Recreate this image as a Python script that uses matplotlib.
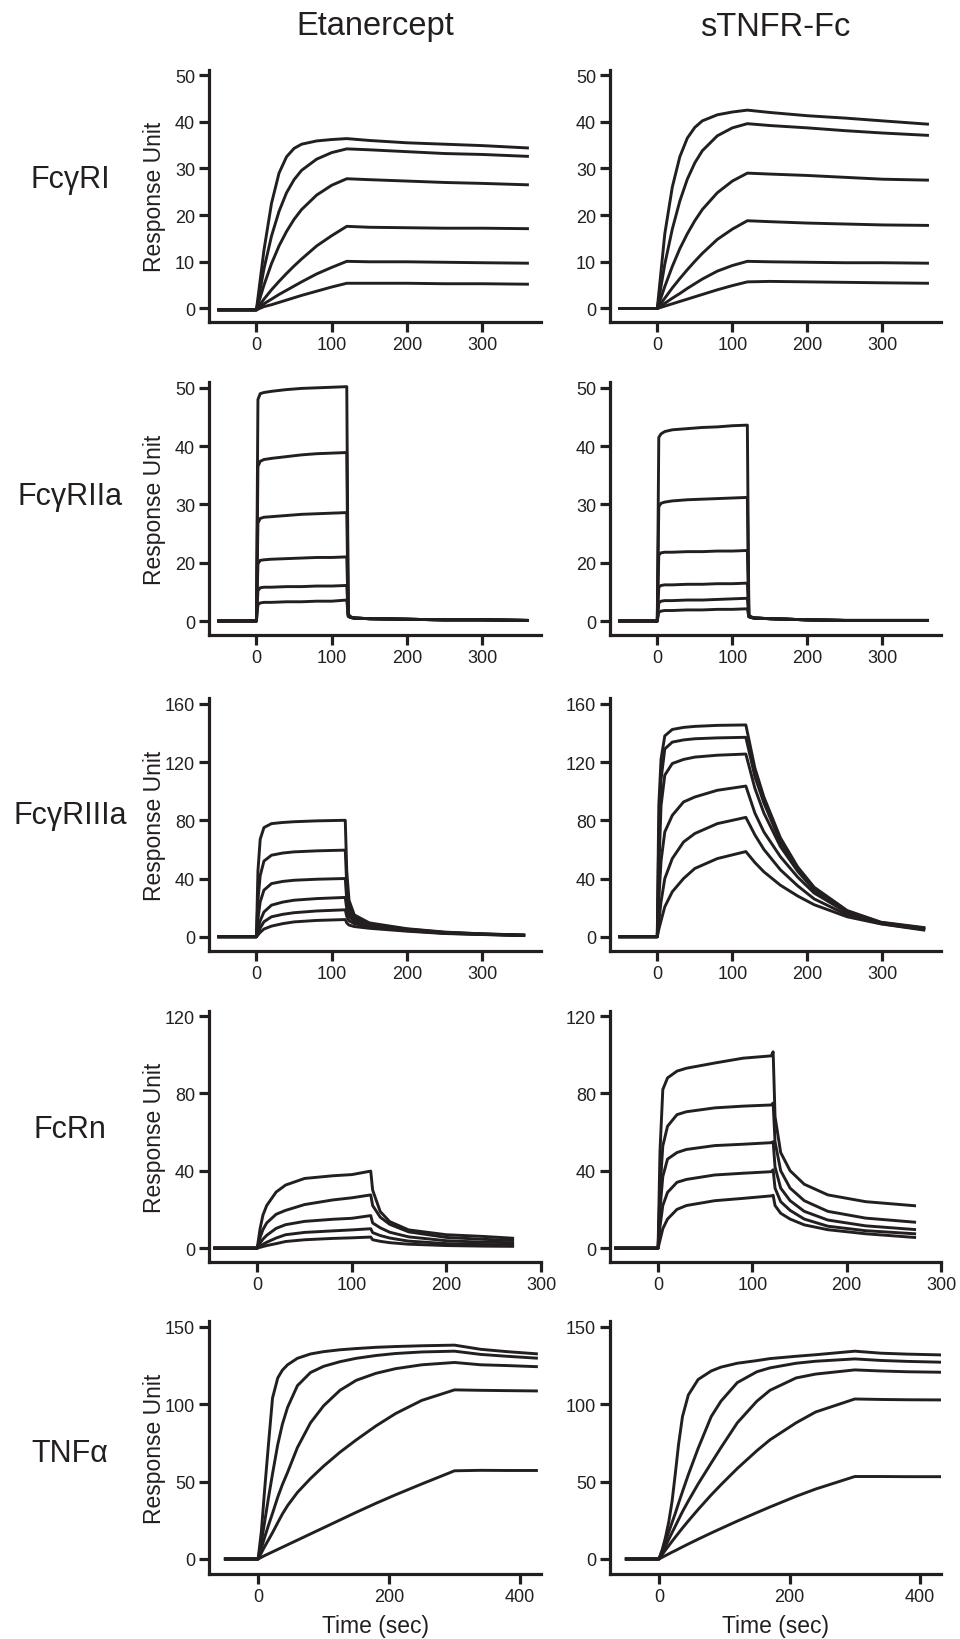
import matplotlib
matplotlib.use('Agg')
import matplotlib.pyplot as plt
from matplotlib import font_manager

# ---------------- data ----------------
col_titles = ['Etanercept', 'sTNFR-Fc']
row_names = ['FcγRI', 'FcγRIIa', 'FcγRIIIa', 'FcRn', 'TNFα']

# FcγRI
t_ri = [-50, 0, 10, 20, 30, 40, 50, 60, 80, 100, 120, 150, 200, 250, 300, 360]
ri_eta = [
    [-0.3, -0.3, 12.5, 22.5, 29.0, 32.5, 34.3, 35.2, 35.9, 36.2, 36.4, 36.0, 35.5, 35.2, 34.9, 34.4],
    [-0.3, -0.3, 8.5, 15.5, 20.8, 24.8, 27.6, 29.6, 32.0, 33.4, 34.2, 34.0, 33.6, 33.2, 33.0, 32.6],
    [-0.3, -0.3, 5.0, 9.6, 13.4, 16.5, 19.1, 21.2, 24.3, 26.4, 27.8, 27.6, 27.3, 27.0, 26.8, 26.5],
    [-0.3, -0.3, 2.0, 4.0, 5.8, 7.5, 9.1, 10.6, 13.4, 15.6, 17.6, 17.4, 17.3, 17.2, 17.2, 17.1],
    [-0.3, -0.3, 1.0, 2.0, 3.0, 3.9, 4.8, 5.7, 7.4, 8.8, 10.1, 10.0, 10.0, 9.9, 9.8, 9.7],
    [-0.3, -0.3, 0.4, 0.8, 1.3, 1.8, 2.3, 2.8, 3.7, 4.6, 5.4, 5.4, 5.4, 5.3, 5.3, 5.2],
]
ri_stnfr = [
    [0, 0, 16.0, 26.0, 32.5, 36.5, 38.8, 40.2, 41.5, 42.1, 42.5, 42.0, 41.3, 40.8, 40.2, 39.5],
    [0, 0, 9.5, 17.0, 23.0, 27.7, 31.2, 33.8, 37.0, 38.7, 39.6, 39.2, 38.7, 38.1, 37.6, 37.1],
    [0, 0, 4.7, 9.0, 12.8, 16.0, 18.8, 21.2, 24.8, 27.3, 29.0, 28.8, 28.5, 28.1, 27.7, 27.5],
    [0, 0, 2.2, 4.4, 6.4, 8.3, 10.1, 11.8, 14.8, 17.0, 18.8, 18.6, 18.3, 18.1, 17.9, 17.8],
    [0, 0, 1.1, 2.2, 3.2, 4.3, 5.3, 6.3, 8.0, 9.2, 10.1, 10.0, 9.9, 9.8, 9.8, 9.7],
    [0, 0, 0.5, 1.0, 1.5, 2.0, 2.5, 3.0, 4.0, 4.9, 5.7, 5.8, 5.7, 5.6, 5.5, 5.4],
]

# FcγRIIa (plotted in axis units; the source labels the 5 ticks 0,20,30,40,50)
t_riia = [-50, 0, 2, 5, 10, 20, 40, 60, 80, 100, 120, 122, 125, 130, 150, 200, 250, 300, 360]
riia_eta = [
    [0, 0, 38.0, 39.0, 39.2, 39.4, 39.7, 39.9, 40.0, 40.1, 40.2, 1.2, 0.7, 0.5, 0.4, 0.3, 0.2, 0.2, 0.1],
    [0, 0, 26.5, 27.4, 27.7, 27.9, 28.2, 28.5, 28.7, 28.8, 28.9, 1.1, 0.7, 0.5, 0.4, 0.3, 0.2, 0.2, 0.1],
    [0, 0, 16.8, 17.6, 17.8, 17.9, 18.1, 18.3, 18.4, 18.5, 18.6, 1.0, 0.7, 0.5, 0.4, 0.3, 0.2, 0.2, 0.1],
    [0, 0, 9.8, 10.4, 10.5, 10.6, 10.7, 10.8, 10.9, 10.9, 11.0, 0.9, 0.6, 0.5, 0.4, 0.3, 0.2, 0.2, 0.1],
    [0, 0, 5.2, 5.7, 5.8, 5.8, 5.9, 5.9, 6.0, 6.0, 6.1, 0.8, 0.6, 0.5, 0.4, 0.3, 0.2, 0.2, 0.1],
    [0, 0, 2.8, 3.1, 3.2, 3.2, 3.3, 3.3, 3.4, 3.4, 3.6, 0.8, 0.6, 0.5, 0.4, 0.3, 0.2, 0.2, 0.1],
]
riia_stnfr = [
    [0, 0, 31.5, 32.1, 32.5, 32.8, 33.0, 33.2, 33.3, 33.5, 33.6, 1.0, 0.7, 0.5, 0.4, 0.2, 0.1, 0.1, 0.1],
    [0, 0, 19.6, 20.2, 20.4, 20.6, 20.8, 20.9, 21.0, 21.1, 21.2, 0.9, 0.7, 0.5, 0.4, 0.2, 0.1, 0.1, 0.1],
    [0, 0, 11.3, 11.7, 11.8, 11.8, 11.9, 11.9, 12.0, 12.0, 12.1, 0.9, 0.6, 0.5, 0.4, 0.2, 0.1, 0.1, 0.1],
    [0, 0, 5.8, 6.1, 6.2, 6.2, 6.3, 6.3, 6.4, 6.4, 6.5, 0.8, 0.6, 0.5, 0.4, 0.2, 0.1, 0.1, 0.1],
    [0, 0, 3.1, 3.4, 3.5, 3.5, 3.6, 3.6, 3.7, 3.8, 3.9, 0.8, 0.6, 0.5, 0.4, 0.2, 0.1, 0.1, 0.1],
    [0, 0, 1.5, 1.7, 1.8, 1.8, 1.9, 1.9, 2.0, 2.0, 2.1, 0.7, 0.6, 0.5, 0.4, 0.2, 0.1, 0.1, 0.1],
]

# FcγRIIIa
t_riiia_eta = [-50, 0, 2, 5, 10, 20, 35, 50, 80, 118, 120, 123, 130, 150, 200, 250, 300, 355]
riiia_eta = [
    [0, 0, 45, 67, 75, 77.7, 78.5, 79.0, 79.6, 80.0, 45, 25, 15, 9.5, 5.5, 3.2, 2.0, 1.2],
    [0, 0, 25, 42, 52, 56.0, 57.5, 58.3, 59.0, 59.5, 35, 21, 13.5, 8.8, 5.2, 3.0, 1.9, 1.1],
    [0, 0, 12, 24, 32, 36.5, 38.0, 38.8, 39.5, 40.0, 25, 17, 12, 8.2, 4.9, 2.8, 1.8, 1.0],
    [0, 0, 5, 11, 17, 21.7, 23.8, 25.1, 26.2, 27.0, 19, 14, 10.5, 7.5, 4.5, 2.6, 1.7, 1.0],
    [0, 0, 2.5, 6, 10.3, 13.7, 15.4, 16.5, 17.7, 18.5, 14, 11, 9, 6.8, 4.2, 2.4, 1.6, 0.9],
    [0, 0, 1.2, 3, 5.3, 7.3, 9.0, 10.2, 11.2, 11.8, 9.5, 8, 7, 5.8, 3.8, 2.2, 1.5, 0.8],
]
t_riiia_stnfr = [-50, 0, 2, 5, 10, 20, 35, 50, 80, 118, 130, 142, 164, 187, 209, 253, 298, 355]
riiia_stnfr = [
    [0, 0, 90, 122, 138.0, 142.4, 143.8, 144.5, 145.2, 145.5, 116, 96, 68, 48, 34, 18, 10, 6.3],
    [0, 0, 70, 108, 129.0, 133.7, 135.2, 136.0, 136.6, 137.0, 110, 92, 65, 46.5, 33, 17.5, 9.7, 6.0],
    [0, 0, 45, 90, 111.0, 119.0, 121.8, 123.4, 124.7, 125.5, 102, 85, 62, 45, 32, 17, 9.5, 5.5],
    [0, 0, 25, 52, 72.0, 83.4, 92.6, 96.0, 100.6, 103.5, 85, 72, 55, 41, 30, 16.5, 9.5, 5.5],
    [0, 0, 10, 24, 40.0, 53.7, 65.1, 70.9, 77.7, 82.0, 70, 60, 46, 35, 26, 15, 9, 5.0],
    [0, 0, 5, 11, 20.6, 30.9, 40.0, 46.9, 53.7, 58.5, 51, 44.6, 35.4, 28, 22, 13.7, 8.8, 4.6],
]

# FcRn
t_fcrn_eta = [-45, 0, 3, 6, 10, 20, 30, 50, 80, 100, 120, 122, 130, 140, 160, 200, 240, 270]
fcrn_eta = [
    [0, 0, 10.0, 17.0, 22.0, 29.0, 32.6, 36.0, 37.4, 38.0, 39.8, 30.0, 18.9, 13.7, 9.4, 6.9, 6.0, 5.1],
    [0, 0, 5.5, 9.5, 13.0, 17.5, 19.5, 22.5, 24.9, 26.0, 27.5, 22.0, 16.0, 12.3, 8.4, 5.5, 4.5, 4.0],
    [0, 0, 2.6, 4.6, 6.6, 10.2, 12.1, 13.8, 14.9, 15.4, 16.8, 13.0, 10.5, 8.2, 5.8, 3.8, 3.0, 2.8],
    [0, 0, 1.0, 1.9, 3.0, 5.2, 6.9, 8.1, 8.9, 9.4, 10.0, 8.0, 6.5, 5.2, 3.6, 2.3, 1.8, 1.6],
    [0, 0, 0.4, 0.8, 1.3, 2.3, 3.4, 4.3, 5.0, 5.3, 5.7, 4.3, 3.5, 2.8, 2.0, 1.3, 1.0, 0.9],
]
t_fcrn_stnfr = [-45, 0, 2, 5, 10, 20, 30, 60, 90, 120, 122, 124, 130, 140, 155, 180, 220, 272]
fcrn_stnfr = [
    [0, 0, 50, 82.0, 88.0, 91.5, 93.0, 95.7, 98.2, 99.4, 101.5, 68, 49.4, 40.0, 33.0, 27.5, 24.0, 21.9],
    [0, 0, 30, 52.8, 63.0, 69.0, 70.5, 72.5, 73.4, 74.0, 75.0, 55, 40.0, 31.0, 24.5, 19.0, 15.5, 13.4],
    [0, 0, 20, 37.0, 46.0, 49.4, 51.0, 53.0, 53.7, 54.5, 55.0, 42, 31.0, 24.5, 19.0, 14.5, 11.5, 9.6],
    [0, 0, 11, 22.0, 28.8, 34.0, 35.5, 37.8, 38.7, 39.5, 40.5, 31, 24.0, 19.5, 15.0, 11.3, 9.0, 7.4],
    [0, 0, 4, 10.0, 15.0, 20.0, 22.0, 24.5, 25.7, 27.0, 27.3, 22, 18.0, 15.0, 12.0, 9.5, 7.4, 5.5],
]

# TNFα
t_tnf_eta = [-50, 0, 5, 10, 16, 22, 30, 37, 45, 60, 80, 100, 125, 150, 180, 210, 250, 300, 340, 380, 425]
tnf_eta = [
    [0, 0, 18, 45, 75, 104, 117, 122, 125.5, 129.7, 132.5, 134.0, 135.2, 136.0, 136.8, 137.3, 137.8, 138.2, 135.5, 134.0, 132.6],
    [0, 0, 11, 24, 40, 55, 74, 87, 98.0, 112.0, 120.5, 124.5, 127.5, 129.7, 131.5, 132.8, 133.8, 134.3, 132.2, 131.0, 129.8],
    [0, 0, 7, 14, 22, 29.5, 40, 48, 56.0, 72.0, 88.0, 99.0, 109.0, 115.5, 120.0, 123.0, 125.5, 127.0, 125.5, 125.0, 124.3],
    [0, 0, 4, 8, 12.5, 17, 23.5, 29, 34.5, 43.0, 52.0, 60.0, 69.0, 77.0, 86.0, 94.0, 102.5, 109.3, 109.0, 108.8, 108.6],
    [0, 0, 1.1, 2.2, 3.4, 4.6, 6.2, 7.6, 9.2, 12.2, 16.2, 20.2, 25.2, 30.2, 36.0, 41.5, 48.5, 57.0, 57.3, 57.2, 57.2],
]
t_tnf_stnfr = [-50, 0, 5, 10, 15, 20, 25, 30, 36, 45, 60, 80, 95, 120, 150, 170, 210, 240, 300, 340, 380, 430]
tnf_stnfr = [
    [0, 0, 6.0, 14.0, 24.0, 37.0, 55.0, 74.0, 92.0, 106.0, 116.0, 121.5, 124.0, 126.5, 128.2, 129.5, 131.0, 132.0, 134.3, 133.0, 132.4, 131.9],
    [0, 0, 5.5, 11.5, 17.5, 23.5, 29.5, 36.0, 43.5, 54.5, 71.5, 92.0, 102.0, 114.0, 121.0, 123.5, 126.5, 127.8, 129.3, 128.3, 127.7, 127.2],
    [0, 0, 4.2, 8.4, 12.7, 17.0, 21.2, 25.5, 30.6, 37.5, 48.5, 62.0, 72.0, 88.0, 102.0, 109.0, 117.0, 119.5, 122.2, 121.5, 121.0, 120.7],
    [0, 0, 2.9, 5.8, 8.6, 11.4, 14.1, 16.8, 20.0, 24.6, 32.0, 41.4, 48.0, 58.5, 70.0, 77.0, 88.0, 95.0, 103.4, 103.1, 102.9, 102.8],
    [0, 0, 1.1, 2.2, 3.3, 4.4, 5.4, 6.5, 7.8, 9.7, 12.8, 16.8, 19.7, 24.5, 30.0, 33.6, 40.5, 45.2, 53.3, 53.3, 53.2, 53.2],
]

# axis settings per row
row_ylim = [(-2.9, 51.1), (-2.4, 41.0), (-9.8, 164), (-7.2, 122.6), (-9.7, 153.8)]
row_yticks = [[0, 10, 20, 30, 40, 50], [0, 10, 20, 30, 40], [0, 40, 80, 120, 160], [0, 40, 80, 120], [0, 50, 100, 150]]
row_yticklabels = [['0', '10', '20', '30', '40', '50'], ['0', '20', '30', '40', '50'],
                   ['0', '40', '80', '120', '160'], ['0', '40', '80', '120'], ['0', '50', '100', '150']]
row_xlim = [(-63, 378), (-63, 378), (-63, 378), (-51, 300), (-75, 432)]
row_xticks = [[0, 100, 200, 300]] * 4 + [[0, 200, 400]]

panels = [
    [(t_ri, ri_eta), (t_ri, ri_stnfr)],
    [(t_riia, riia_eta), (t_riia, riia_stnfr)],
    [(t_riiia_eta, riiia_eta), (t_riiia_stnfr, riiia_stnfr)],
    [(t_fcrn_eta, fcrn_eta), (t_fcrn_stnfr, fcrn_stnfr)],
    [(t_tnf_eta, tnf_eta), (t_tnf_stnfr, tnf_stnfr)],
]

# ---------------- layout ----------------
W, H = 960, 1640
ink = '#231f20'
font_names = {f.name for f in font_manager.fontManager.ttflist}
narrow = 'Liberation Sans Narrow' if 'Liberation Sans Narrow' in font_names else 'Liberation Sans'
plt.rcParams['font.family'] = ['Liberation Sans', 'DejaVu Sans']

col_left = [209, 610]
col_width = [332, 331]
row_top = [71, 383, 699, 1012, 1322]
row_bot = [323, 636, 952, 1263, 1575]
row_label_y = [180, 497, 816, 1130, 1454]

fig = plt.figure(figsize=(W / 100, H / 100), dpi=100)

for r in range(5):
    for c in range(2):
        ax = fig.add_axes([col_left[c] / W, 1 - row_bot[r] / H,
                           col_width[c] / W, (row_bot[r] - row_top[r]) / H])
        t, curves = panels[r][c]
        for y in curves:
            ax.plot(t, y, color=ink, lw=2.1, solid_joinstyle='round')

        ax.set_xlim(*row_xlim[r])
        ax.set_ylim(*row_ylim[r])
        ax.set_xticks(row_xticks[r])
        ax.set_yticks(row_yticks[r])
        ax.set_yticklabels(row_yticklabels[r])

        for s in ['top', 'right']:
            ax.spines[s].set_visible(False)
        for s in ['left', 'bottom']:
            ax.spines[s].set_linewidth(2.3)
            ax.spines[s].set_color(ink)
        ax.tick_params(direction='out', length=7.5, width=2.3, color=ink,
                       labelcolor=ink, labelsize=13, pad=2.5)
        for lab in ax.get_xticklabels() + ax.get_yticklabels():
            lab.set_fontfamily(narrow)

        if c == 0:
            ax.set_ylabel('Response Unit', fontsize=16.5, color=ink, va='center')
            ax.yaxis.set_label_coords(-55 / col_width[c], 0.5)
        if r == 4:
            ax.set_xlabel('Time (sec)', fontsize=16.5, color=ink, va='center')
            ax.xaxis.set_label_coords(0.5, -52 / (row_bot[r] - row_top[r]))

    fig.text(70 / W, 1 - row_label_y[r] / H, row_names[r], fontsize=22,
             color=ink, ha='center', va='center')

for c in range(2):
    fig.text((col_left[c] + col_width[c] / 2) / W, 1 - 27 / H, col_titles[c],
             fontsize=23.5, color=ink, ha='center', va='center')

fig.savefig('out.png', dpi=100)
